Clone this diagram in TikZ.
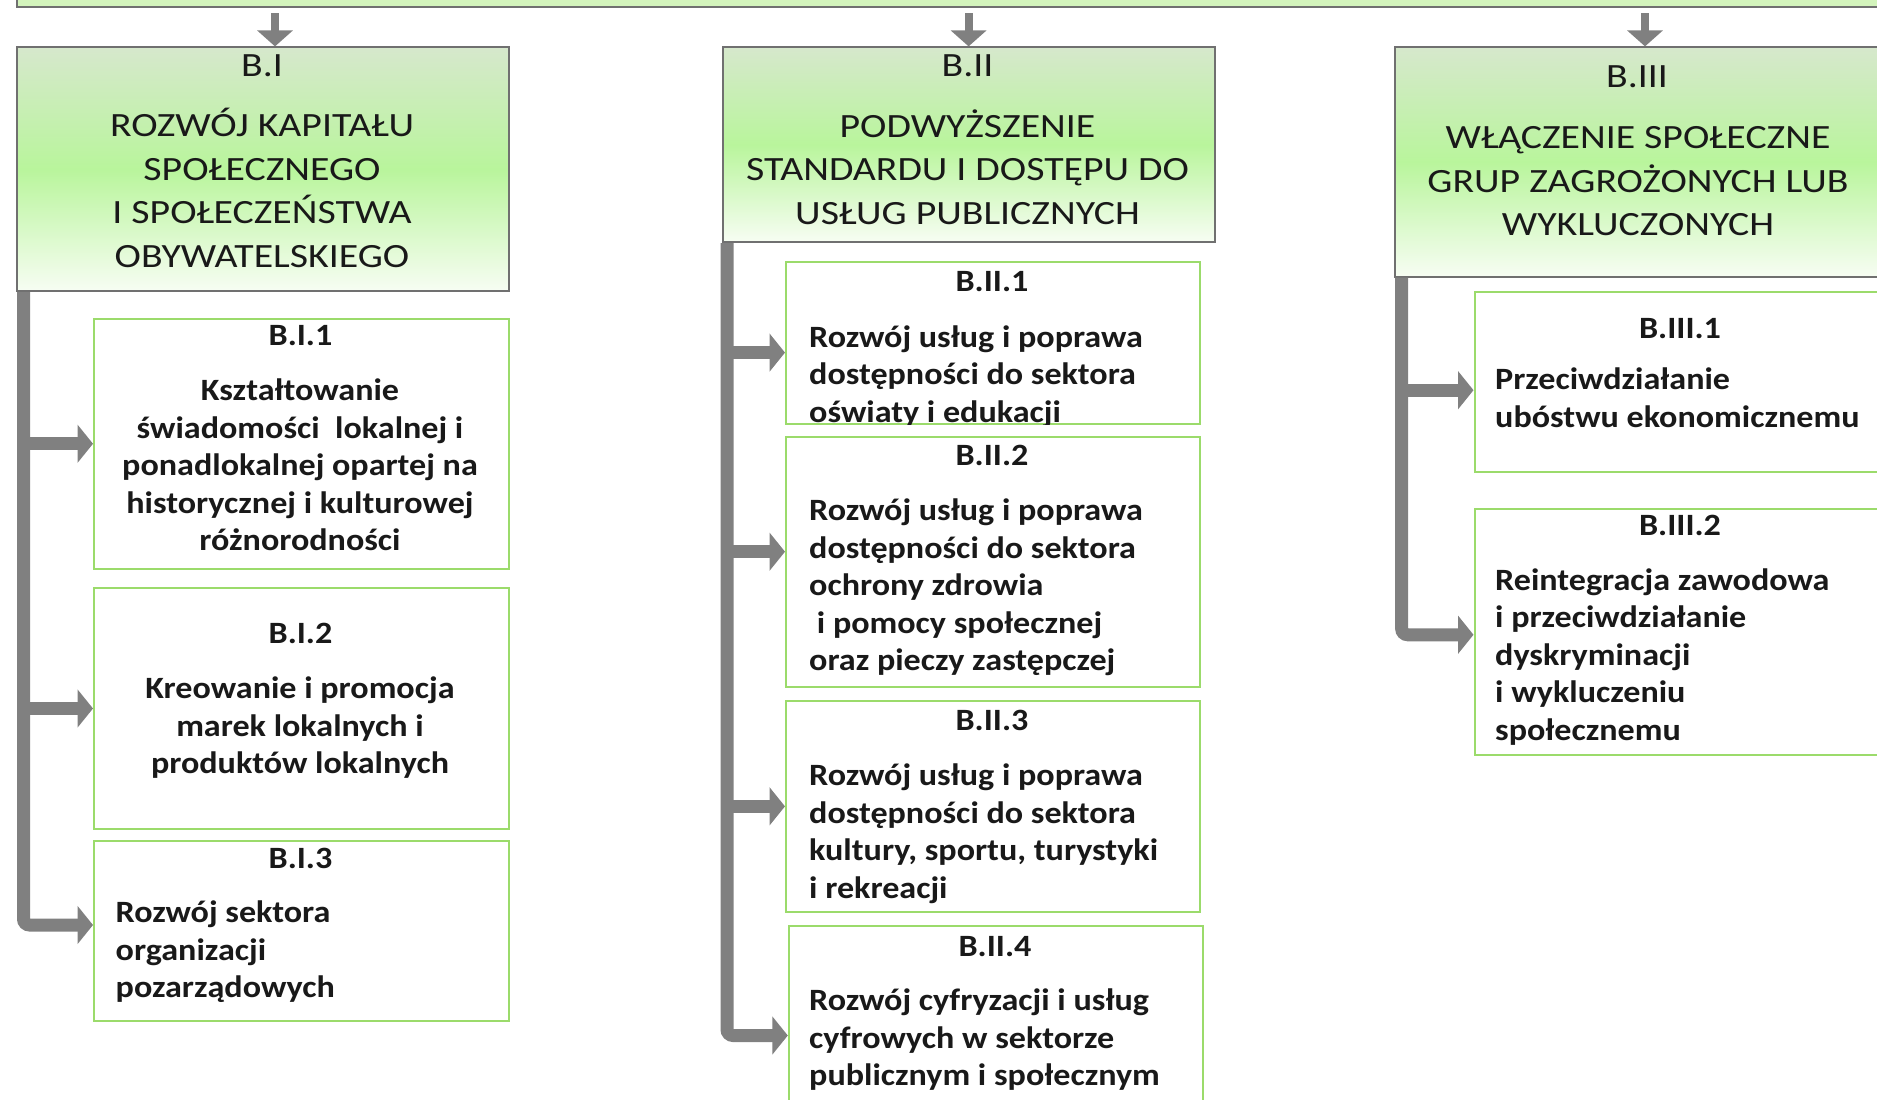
\documentclass[tikz,border=0pt]{standalone}
\usepackage{fontspec}
\setmainfont{Carlito}
\newfontfamily\headfont[FakeStretch=1.17]{Carlito}
\newfontfamily\subfont[FakeStretch=1.1]{Carlito}
\usetikzlibrary{arrows.meta,positioning}
\definecolor{hdtop}{HTML}{D6E8CC}
\definecolor{hdmid}{HTML}{B9F59C}
\definecolor{hdbot}{HTML}{F7FDF3}
\definecolor{topgreen}{HTML}{D3F4BC}
\definecolor{boxgray}{HTML}{707070}
\definecolor{subgreen}{HTML}{9BDB6B}
\definecolor{bargray}{HTML}{808080}
\begin{document}
\begin{tikzpicture}[x=1pt,y=-1pt,
    headbox/.style={draw=boxgray,line width=2pt,top color=hdtop,bottom color=hdbot,middle color=hdmid,inner sep=0pt,anchor=north west},
    subbox/.style={draw=subgreen,line width=2pt,fill=white,inner sep=0pt,anchor=north west},
    headtext/.style={font=\headfont\fontsize{34}{43.5}\selectfont,align=center,inner sep=0pt,text=black!90},
    subtitle/.style={font=\subfont\fontsize{31}{37.5}\selectfont\bfseries,inner sep=0pt,text=black!90},
    subtext/.style={font=\subfont\fontsize{31}{37.5}\selectfont\bfseries,inner sep=0pt,text=black!90},
    bar/.style={draw=bargray,line width=13pt,-{Triangle[width=37.5pt,length=15.5pt]}},
    toparrow/.style={draw=bargray,line width=8pt,shorten <=5pt,-{Triangle[width=35pt,length=16pt]}}]
    \useasboundingbox (0,0) rectangle (1877,1100);
    \clip (0,0) rectangle (1877,1100);
    \node[draw=boxgray,line width=2pt,fill=topgreen,inner sep=0pt,anchor=south west,minimum width=2000pt,minimum height=100pt] (top) at (16,8) {};

    \node[headbox,minimum width=492pt,minimum height=243.6pt] (bI) at (16,46.4) {};
    \node[headbox,minimum width=492pt,minimum height=194.6pt] (bII) at (721.6,46.4) {};
    \node[headbox,minimum width=492pt,minimum height=229.3pt] (bIII) at (1394,46.4) {};
    \node[headtext] (bIt) at (262,66) {B.I};
    \node[headtext,anchor=north] (bIx) at (262,108.2) {ROZWÓJ KAPITAŁU\\SPOŁECZNEGO\\I SPOŁECZEŃSTWA\\OBYWATELSKIEGO};
    \node[headtext] (bIIt) at (967.5,66) {B.II};
    \node[headtext,anchor=north] (bIIx) at (967.5,109.5) {PODWYŻSZENIE\\STANDARDU I DOSTĘPU DO\\USŁUG PUBLICZNYCH};
    \node[headtext] (bIIIt) at (1637,76.8) {B.III};
    \node[headtext,anchor=north] (bIIIx) at (1638,126.4) {WŁĄCZENIE SPOŁECZNE\\GRUP ZAGROŻONYCH LUB\\WYKLUCZONYCH};

    \draw[toparrow] ([xshift=12pt]bI.north |- top.south) -- ([xshift=12pt]bI.north);
    \draw[toparrow] (bII.north |- top.south) -- (bII.north);
    \draw[toparrow] ([xshift=4pt]bIII.north |- top.south) -- ([xshift=4pt]bIII.north);

    \node[subbox,minimum width=415pt,minimum height=249.5pt] (b11) at (93,318) {};
    \node[subbox,minimum width=415pt,minimum height=241pt] (b12) at (93,587) {};
    \node[subbox,minimum width=415pt,minimum height=180pt] (b13) at (93,840) {};
    \node[subtitle] (b11t) at (300.5,335.7) {B.I.1};
    \node[subtext,align=center,anchor=north] (b11x) at (300,379) {Kształtowanie\\świadomości\ \ lokalnej i\\ponadlokalnej opartej na\\historycznej i kulturowej\\różnorodności};
    \node[subtitle] (b12t) at (300.5,633.6) {B.I.2};
    \node[subtext,align=center,anchor=north] (b12x) at (300,677) {Kreowanie i promocja\\marek lokalnych i\\produktów lokalnych};
    \node[subtitle] (b13t) at (300.5,858) {B.I.3};
    \node[subtext,align=left,anchor=north west] (b13x) at (115.5,901) {Rozwój sektora\\organizacji\\pozarządowych};

    \node[subbox,minimum width=414pt,minimum height=161.8pt] (b21) at (785,260.7) {};
    \node[subbox,minimum width=414pt,minimum height=250pt] (b22) at (785,435.7) {};
    \node[subbox,minimum width=414pt,minimum height=210.7pt] (b23) at (785,700) {};
    \node[subbox,minimum width=414.6pt,minimum height=219pt] (b24) at (787.8,925) {};
    \node[subtitle] (b21t) at (992,282) {B.II.1};
    \begin{scope}
      \clip (b21.north west) rectangle (b21.south east);
      \node[subtext,align=left,anchor=north west] (b21x) at (809,325.5) {Rozwój usług i poprawa\\dostępności do sektora\\oświaty i edukacji};
    \end{scope}
    \node[subtitle] (b22t) at (992,455) {B.II.2};
    \node[subtext,align=left,anchor=north west] (b22x) at (809,498.7) {Rozwój usług i poprawa\\dostępności do sektora\\ochrony zdrowia\\\ i pomocy społecznej\\oraz pieczy zastępczej};
    \node[subtitle] (b23t) at (992,720) {B.II.3};
    \node[subtext,align=left,anchor=north west] (b23x) at (809,763.7) {Rozwój usług i poprawa\\dostępności do sektora\\kultury, sportu, turystyki\\i rekreacji};
    \node[subtitle] (b24t) at (995,947) {B.II.4};
    \node[subtext,align=left,anchor=north west] (b24x) at (809,988.7) {Rozwój cyfryzacji i usług\\cyfrowych w sektorze\\publicznym i społecznym};

    \node[subbox,minimum width=414pt,minimum height=180.4pt] (b31) at (1473.5,291) {};
    \node[subbox,minimum width=414pt,minimum height=246.5pt] (b32) at (1473.5,507.5) {};
    \node[subtitle] (b31t) at (1680,328.6) {B.III.1};
    \node[subtext,align=left,anchor=north west] (b31x) at (1495,368) {Przeciwdziałanie\\ubóstwu ekonomicznemu};
    \node[subtitle] (b32t) at (1680,525.5) {B.III.2};
    \node[subtext,align=left,anchor=north west] (b32x) at (1495,568.5) {Reintegracja zawodowa\\i przeciwdziałanie\\dyskryminacji\\i wykluczeniu\\społecznemu};

    \coordinate (spineI) at ([xshift=7.5pt]bI.south west);
    \coordinate (spineII) at ([xshift=5.4pt]bII.south west);
    \coordinate (spineIII) at ([xshift=7.7pt]bIII.south west);
    \draw[bar] (spineI |- b11.west) -- (b11.west);
    \draw[bar] (spineI |- b12.west) -- (b12.west);
    \draw[bar,rounded corners=6pt] (spineI) |- ([yshift=6pt]b13.west);
    \draw[bar] (spineII |- b21.west) ++(0,10) -- ([yshift=-10pt]b21.west);
    \draw[bar] (spineII |- b22.west) ++(0,-10) -- ([yshift=10pt]b22.west);
    \draw[bar] (spineII |- b23.west) -- (b23.west);
    \draw[bar,rounded corners=6pt] (spineII) |- (b24.west);
    \draw[bar] (spineIII |- b31.west) ++(0,8) -- ([yshift=-8pt]b31.west);
    \draw[bar,rounded corners=6pt] (spineIII) |- ([yshift=-3pt]b32.west);
\end{tikzpicture}
\end{document}
